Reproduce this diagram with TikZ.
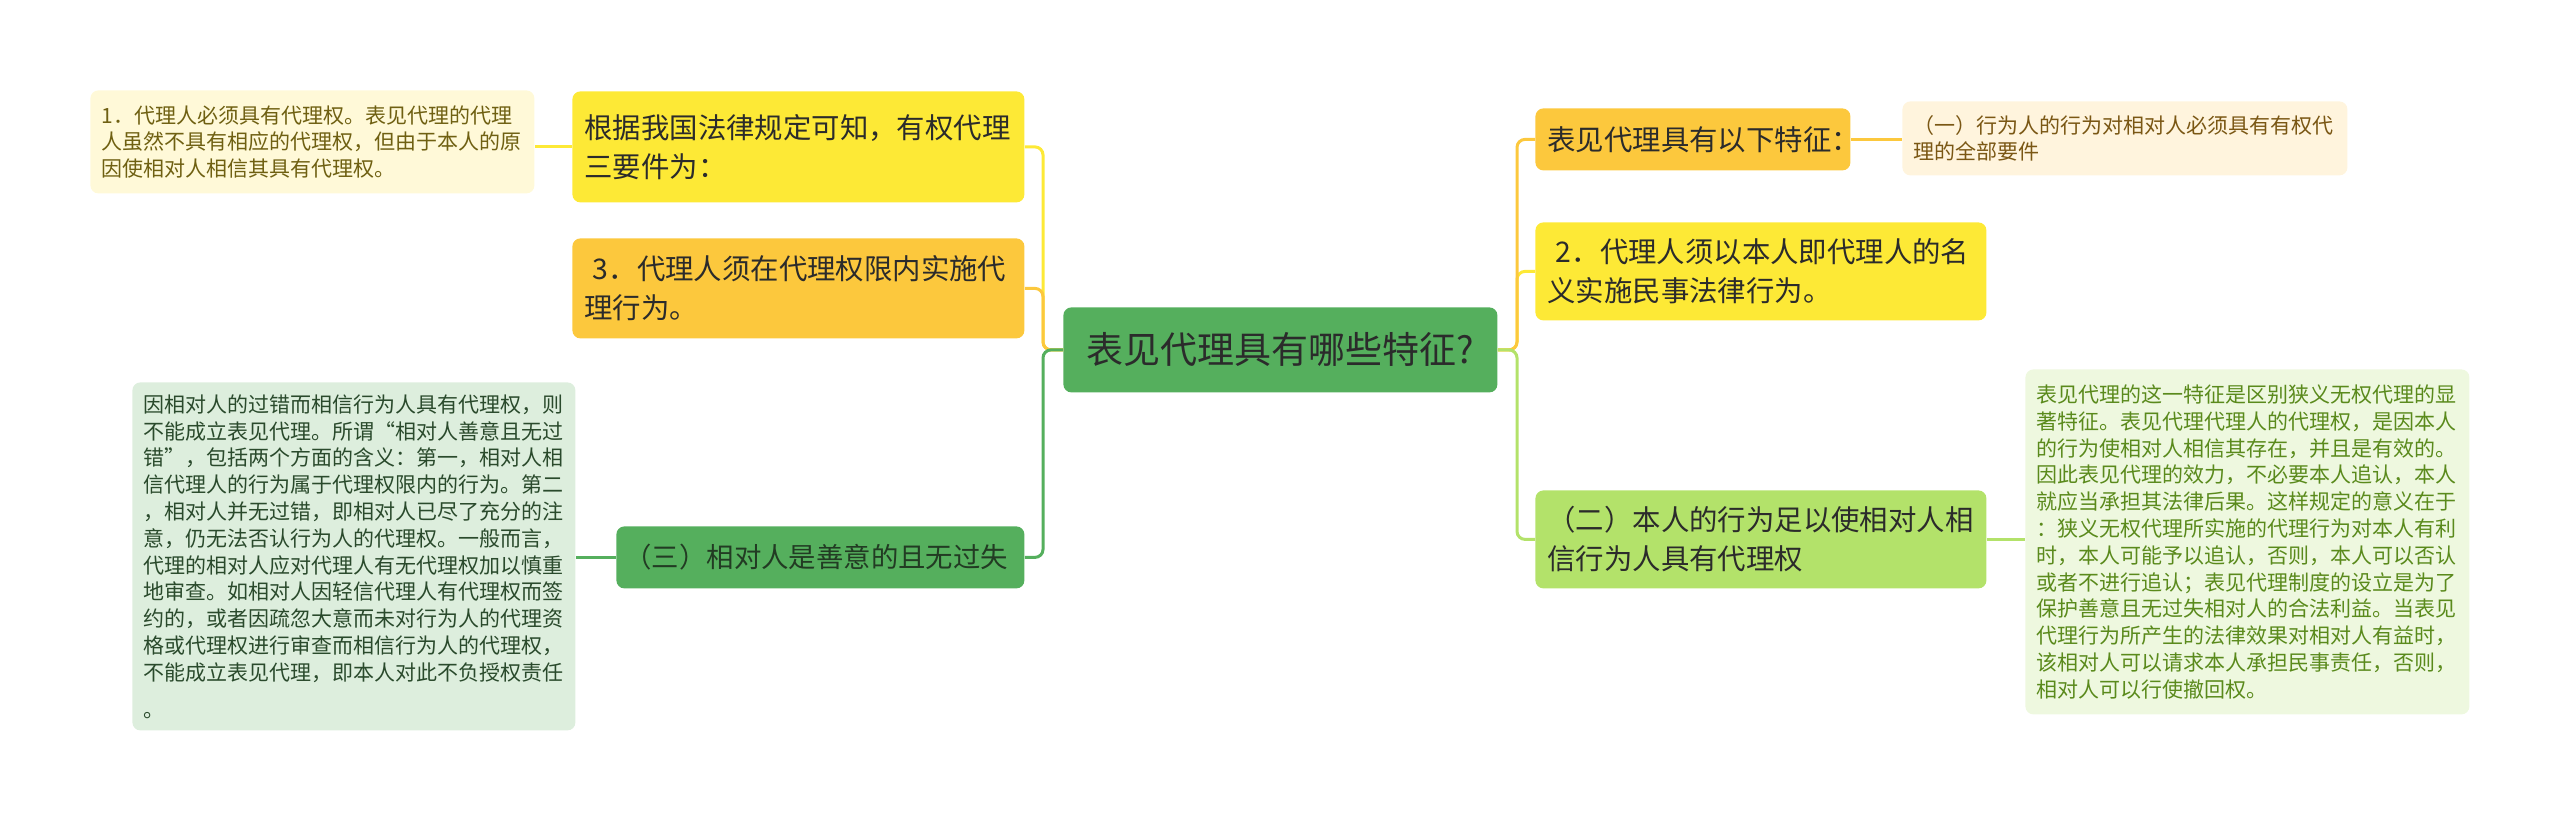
\documentclass[tikz,border=0pt]{standalone}
\usepackage{fontspec}
\newfontfamily\cjk{Noto Sans CJK SC}
\definecolor{mapgreen}{HTML}{55AF5D}
\definecolor{mapyellow}{HTML}{FDE936}
\definecolor{maporange}{HTML}{FCC83D}
\definecolor{maplime}{HTML}{B3E26A}
\definecolor{leafyellow}{HTML}{FFF9D8}
\definecolor{leafcream}{HTML}{FFF4DD}
\definecolor{leafgreen}{HTML}{DDEEDD}
\definecolor{leaflime}{HTML}{EEF8DF}
\definecolor{inkdark}{HTML}{2B2B2B}
\definecolor{inkolive}{HTML}{6F6012}
\definecolor{inkbrown}{HTML}{7A5714}
\definecolor{inkgreen}{HTML}{2A4A2C}
\definecolor{inklime}{HTML}{5A8A1C}

\begin{document}
\begin{tikzpicture}[
    x=0.5pt, y=-0.5pt,
    box/.style={anchor=north west, rounded corners=4pt, inner ysep=0pt, align=left, text=inkdark},
    root/.style={box, fill=mapgreen, align=center, inner xsep=6pt,
        font=\cjk\fontsize{18.5}{22}\selectfont},
    branch/.style={box, inner xsep=6pt, font=\cjk\fontsize{14.2}{19.6}\selectfont},
    leaf/.style={box, inner xsep=5.5pt, font=\cjk\fontsize{10.5}{13.4}\selectfont},
    link/.style={line width=1.5pt, rounded corners=4pt}
]

% 1. Page frame
\useasboundingbox (0,0) rectangle (2560,821);

% 2. Central topic
\node[root, text width=205pt, minimum height=42.5pt] (root) at (1063,307) {表见代理具有哪些特征?};

% 3. Left branches
\node[branch, fill=mapyellow, text width=214pt, minimum height=55.5pt] (basis) at (572,91)
    {根据我国法律规定可知，有权代理\\三要件为：};
\node[branch, fill=maporange, text width=214pt, minimum height=50pt] (scope) at (572,238)
    {\hspace{0.3em}3．代理人须在代理权限内实施代\\理行为。};
\node[branch, fill=mapgreen, text=inkgreen!80!black, inner xsep=4pt, text width=196pt, minimum height=31pt,
    font=\cjk\fontsize{13.7}{19.6}\selectfont] (third) at (616,526)
    {（三）相对人是善意的且无过失};

% 4. Right branches
\node[branch, fill=maporange, text width=145.5pt, minimum height=31pt] (feats) at (1535,108)
    {表见代理具有以下特征：};
\node[branch, fill=mapyellow, text width=213.5pt, minimum height=49pt] (name) at (1535,222)
    {\hspace{0.3em}2．代理人须以本人即代理人的名\\义实施民事法律行为。};
\node[branch, fill=maplime, text width=213.5pt, minimum height=49pt] (second) at (1535,490)
    {（二）本人的行为足以使相对人相\\信行为人具有代理权};

% 5. Leaves
\node[leaf, fill=leafyellow, text=inkolive, text width=211pt, minimum height=51.5pt] (basisleaf) at (90,90)
    {1．代理人必须具有代理权。表见代理的代理\\人虽然不具有相应的代理权，但由于本人的原\\因使相对人相信其具有代理权。};
\node[leaf, fill=leafcream, text=inkbrown, text width=211.5pt, minimum height=37pt] (featsleaf) at (1902,101)
    {（一）行为人的行为对相对人必须具有有权代\\理的全部要件};
\node[leaf, fill=leafgreen, text=inkgreen, text width=210.5pt, minimum height=174pt] (thirdleaf) at (132,382)
    {因相对人的过错而相信行为人具有代理权，则\\不能成立表见代理。所谓“相对人善意且无过\\错”，包括两个方面的含义：第一，相对人相\\信代理人的行为属于代理权限内的行为。第二\\，相对人并无过错，即相对人已尽了充分的注\\意，仍无法否认行为人的代理权。一般而言，\\代理的相对人应对代理人有无代理权加以慎重\\地审查。如相对人因轻信代理人有代理权而签\\约的，或者因疏忽大意而未对行为人的代理资\\格或代理权进行审查而相信行为人的代理权，\\不能成立表见代理，即本人对此不负授权责任\\[5pt]。};
\node[leaf, fill=leaflime, text=inklime, text width=211pt, minimum height=172.5pt] (secondleaf) at (2025,369)
    {表见代理的这一特征是区别狭义无权代理的显\\著特征。表见代理代理人的代理权，是因本人\\的行为使相对人相信其存在，并且是有效的。\\因此表见代理的效力，不必要本人追认，本人\\就应当承担其法律后果。这样规定的意义在于\\：狭义无权代理所实施的代理行为对本人有利\\时，本人可能予以追认，否则，本人可以否认\\或者不进行追认；表见代理制度的设立是为了\\保护善意且无过失相对人的合法利益。当表见\\代理行为所产生的法律效果对相对人有益时，\\该相对人可以请求本人承担民事责任，否则，\\相对人可以行使撤回权。};

% 6. Connectors
\coordinate (ltrunk) at (1043,349);
\coordinate (rtrunk) at (1517,349);
\draw[link, mapyellow] (root.west) -- (ltrunk |- root.west) |- (basis.east);
\draw[link, maporange] (root.west) -- (ltrunk |- root.west) |- (scope.east);
\draw[link, mapgreen] (root.west) -- (ltrunk |- root.west) |- (third.east);
\draw[link, mapyellow] (root.east) -- (rtrunk |- root.east) |- (name.west);
\draw[link, maporange] (root.east) -- (rtrunk |- root.east) |- (feats.west);
\draw[link, maplime] (root.east) -- (rtrunk |- root.east) |- (second.west);
\draw[link, mapyellow] (basis.west) -- (basis.west -| basisleaf.east);
\draw[link, maporange] (feats.east) -- (feats.east -| featsleaf.west);
\draw[link, mapgreen] (third.west) -- (third.west -| thirdleaf.east);
\draw[link, maplime] (second.east) -- (second.east -| secondleaf.west);

\end{tikzpicture}
\end{document}
